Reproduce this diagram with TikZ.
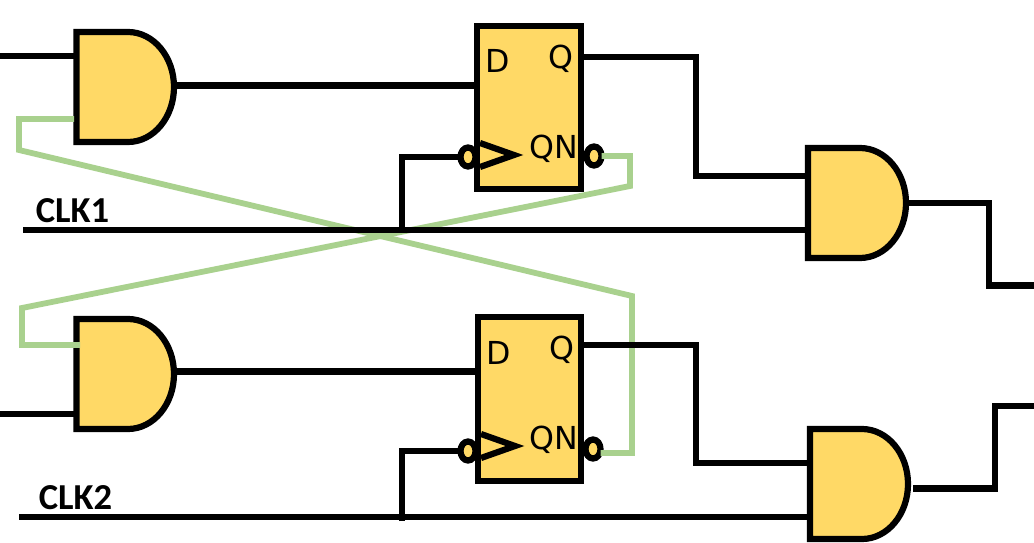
\documentclass[tikz,border=0pt]{standalone}
\usepackage{fontspec}
\setmainfont{Carlito}
\newfontfamily\pinfont{DejaVu Sans}
\usepackage{tikz}
\usetikzlibrary{calc}
\usetikzlibrary{shapes.geometric}
\definecolor{gatefill}{HTML}{FFD966}
\definecolor{crosswire}{HTML}{A9D18E}
\tikzset{
  wire/.style={line width=0.062cm, black},
  feedback/.style={line width=0.058cm, crosswire},
  ffbox/.style={draw, line width=0.062cm, fill=gatefill, rectangle, inner sep=0pt, outer sep=0pt},
  gatebox/.style={rectangle, inner sep=0pt, outer sep=0pt},
  bubble/.style={draw, line width=0.062cm, fill=gatefill, ellipse, inner sep=0pt, outer sep=0pt, minimum width=0.15cm, minimum height=0.19cm},
  pin/.style={inner sep=0pt, font=\pinfont\fontsize{9}{9}\selectfont},
  clklabel/.style={inner sep=0pt, font=\bfseries\fontsize{10.4}{10.4}\selectfont}
}
% name, left, top, right, bottom
\newcommand{\gateAnd}[5]{\node[gatebox, minimum width={(#4-#2)*0.01cm}, minimum height={(#5-#3)*0.01cm}] (#1) at ( {(#2+#4)/2} , {(#3+#5)/2} ){}; \draw[wire, fill=gatefill] ( #2 , #3 ) -- ( #4-46 , #3 ) arc(-90:90:{46} and {(#5-#3)*0.5}) -- ( #2 , #5 ) -- cycle;}
% name, left, top, right, bottom
\newcommand{\flipFlop}[5]{\node[ffbox, minimum width={(#4-#2)*0.01cm}, minimum height={(#5-#3)*0.01cm}] (#1) at ( {(#2+#4)/2} , {(#3+#5)/2} ){};}
\begin{document}
\begin{tikzpicture}[x=0.01cm, y=-0.01cm]
    \useasboundingbox ( 0 , 0 ) rectangle ( 1034 , 543 );

    % gates
    \gateAnd{gateA}{76.5}{32}{174}{142}
    \gateAnd{gateB}{76.5}{319}{174}{429}
    \gateAnd{gateC}{808}{148}{906}{258}
    \gateAnd{gateD}{810}{429}{908}{539}

    % flip flops
    \flipFlop{ffA}{477}{26}{581}{189}
    \flipFlop{ffB}{478}{317}{581}{481}

    % inverting pins
    \node[bubble] (clkbubA) at ( 468 , 157 ){};
    \node[bubble] (clkbubB) at ( 468 , 451 ){};
    \node[bubble] (qnbubA) at ( 594 , 156 ){};
    \node[bubble] (qnbubB) at ( 593 , 449 ){};

    % free ends and pins
    \coordinate (inA) at ( 0 , 56 );
    \coordinate (inB) at ( 0 , 414 );
    \coordinate (clkA) at ( 23 , 230 );
    \coordinate (clkB) at ( 19 , 517 );
    \coordinate (outC) at ( 1034 , 285.5 );
    \coordinate (outD) at ( 1034 , 406 );
    \coordinate (tapA) at ( 402 , 230 );
    \coordinate (tapB) at ( 402 , 521 );
    \coordinate (feedA) at ( 74 , 119 );
    \coordinate (feedB) at ( 80 , 345 );
    \coordinate (startD) at ( 913 , 488.5 );
    \coordinate (dpinA) at ( 477 , 85.5 );
    \coordinate (dpinB) at ( 478 , 371.5 );
    \coordinate (qpinA) at ( 581 , 57 );
    \coordinate (qpinB) at ( 581 , 345 );
    \coordinate (inC) at ( 808 , 176 );
    \coordinate (inD) at ( 810 , 463 );

    % green cross
    \draw[feedback] (feedA) -| (19,150) -- (632,296) -- (632,453) -- (qnbubB.east |- 0,453);
    \draw[feedback] (qnbubA.east) -| (630,186) -- (22,308) |- (feedB);

    % black wires
    \draw[wire] (clkA) -- (gateC.west |- clkA);
    \draw[wire] (clkB) -- (gateD.west |- clkB);
    \draw[wire] (inA) -- (gateA.west |- inA);
    \draw[wire] (inB) -- (gateB.west |- inB);
    \draw[wire] (gateA.east |- dpinA) -- (dpinA);
    \draw[wire] (gateB.east |- dpinB) -- (dpinB);
    \draw[wire] (qpinA) -- ++(115,0) |- (inC);
    \draw[wire] (qpinB) -- ++(115,0) |- (inD);
    \draw[wire] (gateC.east) -- ++(83,0) |- (outC);
    \draw[wire] (startD) -- ++(82,0) |- (outD);
    \draw[wire] (tapA) |- (clkbubA.west);
    \draw[wire] (tapB) |- (clkbubB.west);

    % clock wedges
    \draw[wire] (480,143) -- (514,155) -- (480,167);
    \draw[wire] (481,434) -- (515,446) -- (481,458);

    % text
    \node[pin] (dA) at ( 498 , 61 ){D};
    \node[pin] (qA) at ( 561 , 59 ){Q};
    \node[pin] (qnA) at ( 554 , 149 ){QN};
    \node[pin] (dB) at ( 499 , 353 ){D};
    \node[pin] (qB) at ( 562 , 350 ){Q};
    \node[pin] (qnB) at ( 554 , 440 ){QN};
    \node[clklabel] (lblA) at ( 72.5 , 211 ){CLK1};
    \node[clklabel] (lblB) at ( 75.5 , 498 ){CLK2};
\end{tikzpicture}
\end{document}
